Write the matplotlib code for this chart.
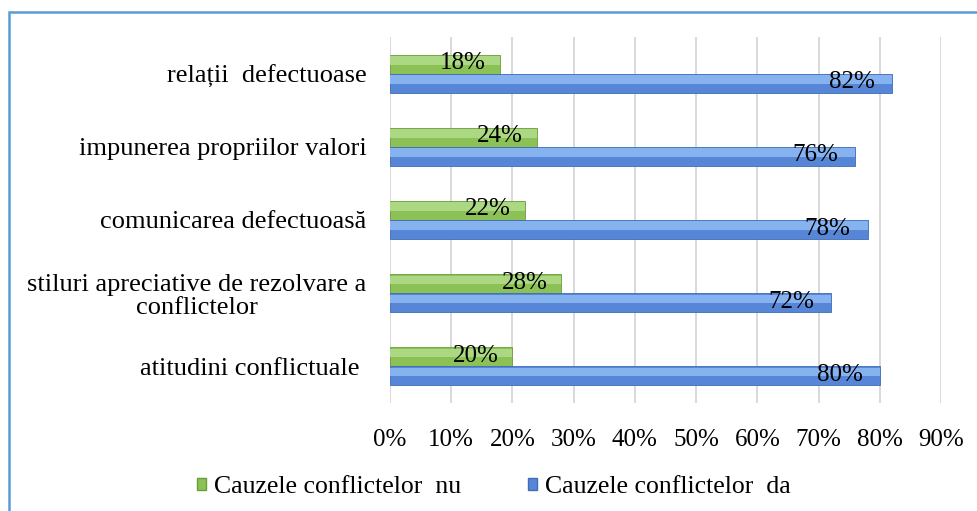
import matplotlib.pyplot as plt
from matplotlib.patches import Rectangle, Patch
import numpy as np

plt.rcParams['font.family'] = ['Liberation Serif', 'DejaVu Serif']

categories = ['relații  defectuoase',
              'impunerea propriilor valori',
              'comunicarea defectuoasă',
              'stiluri apreciative de rezolvare a\nconflictelor',
              'atitudini conflictuale ']
nu_vals = [18, 24, 22, 28, 20]
da_vals = [82, 76, 78, 72, 80]
ticks = [0, 10, 20, 30, 40, 50, 60, 70, 80, 90]

green_dark, green_light, green_edge = '#8cc255', '#acd884', '#6a9e3a'
blue_dark, blue_light, blue_edge = '#5886d6', '#86b2f0', '#3f6db8'

fig = plt.figure(figsize=(9.78, 5.11), dpi=100)
ax = fig.add_axes([0.3988, 0.2114, 0.5634, 0.7162])

y = np.arange(len(categories))
h = 0.26

def bevel_bars(ypos, vals, dark, light, edge):
    # darker base with a lighter upper band, like the Excel bevel
    ax.barh(ypos, vals, height=h, color=dark, edgecolor=edge, linewidth=0.6, zorder=3)
    ax.barh(ypos - h * 0.2, vals, height=h * 0.45, color=light, linewidth=0, zorder=3)

bevel_bars(y - h / 2, nu_vals, green_dark, green_light, green_edge)
bevel_bars(y + h / 2, da_vals, blue_dark, blue_light, blue_edge)

for yi, v in zip(y - h / 2, nu_vals):
    ax.annotate(f'{v}%', (v, yi), xytext=(-14, 1), textcoords='offset pixels',
                ha='right', va='center', fontsize=18, zorder=4)
for yi, v in zip(y + h / 2, da_vals):
    ax.annotate(f'{v}%', (v, yi), xytext=(-17, 1), textcoords='offset pixels',
                ha='right', va='center', fontsize=18, zorder=4)

ax.set_xlim(0, 90)
ax.set_ylim(len(categories) - 0.5, -0.5)
ax.set_xticks(ticks)
ax.set_xticklabels([f'{t}%' for t in ticks], fontsize=18)
ax.set_yticks(y)
ax.set_yticklabels(categories, fontsize=19, linespacing=1.05, multialignment='center')
ax.tick_params(axis='both', length=0)
ax.tick_params(axis='x', pad=19)
ax.tick_params(axis='y', pad=17)
ax.grid(axis='x', color='#d9d9d9', linewidth=1.4, zorder=0)
ax.set_axisbelow(True)
for s in ax.spines.values():
    s.set_visible(False)

handles = [Patch(facecolor=green_dark, edgecolor=green_edge, label='Cauzele conflictelor  nu'),
           Patch(facecolor=blue_dark, edgecolor=blue_edge, label='Cauzele conflictelor  da')]
fig.legend(handles=handles, loc='center', bbox_to_anchor=(0.505, 1 - 487 / 511),
           ncol=2, frameon=False, fontsize=18.5, handlelength=0.35, handleheight=0.35,
           handletextpad=0.3, columnspacing=2.6)

# chart area border
fig.add_artist(Rectangle((8.5 / 978, -0.05), 1.1, 1 - 12.5 / 511 + 0.05,
                         transform=fig.transFigure, fill=False,
                         edgecolor='#5b9bd5', linewidth=1.8, clip_on=False))

fig.savefig('out.png', dpi=100)
